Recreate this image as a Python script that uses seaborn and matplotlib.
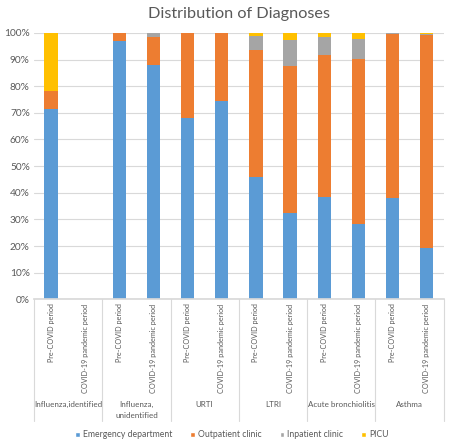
import matplotlib.pyplot as plt
import numpy as np
import pandas as pd
import seaborn as sns
from matplotlib.patches import Patch

# data (percent of cases per setting)
groups = ["Influenza,identified", "Influenza,\nunidentified", "URTI", "LTRI",
          "Acute bronchiolitis", "Asthma"]
periods = ["Pre-COVID period", "COVID-19 pandemic period"]
settings = ["Emergency department", "Outpatient clinic", "Inpatient clinic", "PICU"]

emergency = [71.4, 0, 97.1, 88.0, 67.9, 74.4, 45.9, 32.3, 38.3, 28.1, 38.0, 19.3]
outpatient = [6.9, 0, 2.9, 10.4, 32.1, 25.6, 47.6, 55.2, 53.3, 62.1, 61.6, 79.8]
inpatient = [0, 0, 0, 1.6, 0, 0, 5.2, 10.0, 6.8, 7.5, 0.2, 0.5]
picu = [21.7, 0, 0, 0, 0, 0, 1.3, 2.5, 1.6, 2.3, 0.2, 0.4]

colors = ["#5B9BD5", "#ED7D31", "#A5A5A5", "#FFC000"]
text_color = "#595959"

sns.set_theme(style="white")
plt.rcParams["font.family"] = ["Lato", "DejaVu Sans"]

df = pd.DataFrame({
    "bar": np.arange(len(emergency)),
    "Emergency department": emergency,
    "Outpatient clinic": outpatient,
    "Inpatient clinic": inpatient,
    "PICU": picu,
})

fig = plt.figure(figsize=(4.5, 4.45), dpi=100)
ax = fig.add_axes([0.0756, 0.3274, 0.9104, 0.5986])

# stacked bars: draw cumulative totals from the top layer down
cum = df[settings].cumsum(axis=1)
for setting, color in reversed(list(zip(settings, colors))):
    sns.barplot(x=df["bar"], y=cum[setting], color=color, width=0.39,
                saturation=1, ax=ax, linewidth=0)

ax.set_ylim(0, 100)
ax.set_xlim(-0.5, len(emergency) - 0.5)
ax.set_yticks(np.arange(0, 101, 10))
ax.set_yticklabels([f"{v}%" for v in range(0, 101, 10)], fontsize=7.3, color=text_color)
ax.yaxis.grid(True, color="#D9D9D9", linewidth=0.8)
ax.set_axisbelow(True)
ax.set_xlabel("")
ax.set_ylabel("")
for side in ["top", "right", "left"]:
    ax.spines[side].set_visible(False)
ax.spines["bottom"].set_color("#D9D9D9")
ax.tick_params(axis="both", length=0, pad=3)

ax.set_xticks(df["bar"])
ax.set_xticklabels(periods * len(groups), rotation=90, fontsize=5.2,
                   color=text_color, va="top")

# group separators and group labels under the period labels
for i in range(len(groups) + 1):
    ax.plot([i * 2 - 0.5, i * 2 - 0.5], [0, -45.5], color="#D9D9D9",
            linewidth=0.8, clip_on=False)
for i, g in enumerate(groups):
    ax.text(i * 2 + 0.5, -38.3, g, ha="center", va="top", fontsize=5.8,
            color=text_color, linespacing=1.6)

ax.set_title("Distribution of Diagnoses", fontsize=11.7, color=text_color, pad=11)

handles = [Patch(facecolor=c, label=s) for s, c in zip(settings, colors)]
fig.legend(handles=handles, loc="center", bbox_to_anchor=(0.515, 0.0225), ncol=4,
           frameon=False, handlelength=0.55, handleheight=0.55, handletextpad=0.35,
           columnspacing=2.1, fontsize=6.2, labelcolor=text_color)

fig.savefig("out.png", dpi=100)
